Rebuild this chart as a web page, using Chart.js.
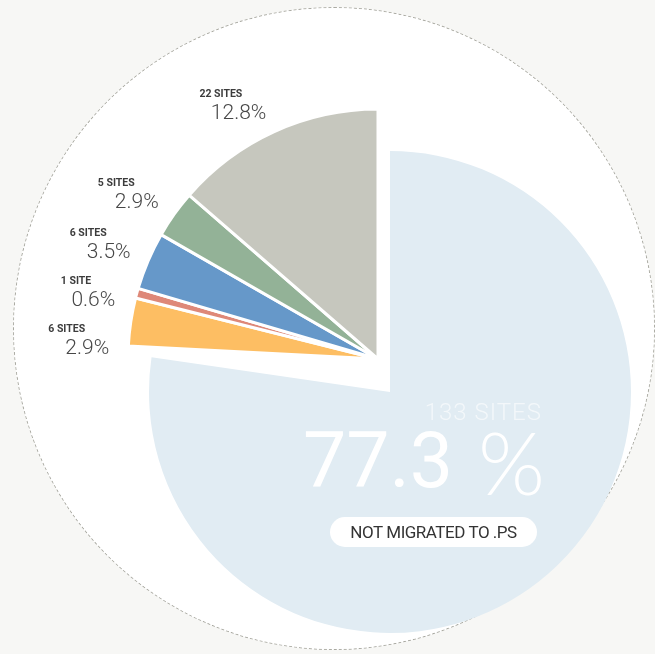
<!DOCTYPE html>
<html>
<head>
<meta charset="utf-8">
<script src="https://cdn.jsdelivr.net/npm/chart.js@4.4.1/dist/chart.umd.min.js"></script>
<style>
  html, body { margin: 0; padding: 0; background: #f7f7f5; }
  #stage { position: relative; width: 655px; height: 654px; overflow: hidden; }
  #disc {
    position: absolute; left: 13px; top: 7px; width: 642px; height: 643px;
    box-sizing: border-box; border-radius: 50%;
    background: #fff; border: 1px dashed #a9a9a1;
  }
  canvas { position: absolute; left: 0; top: 0; }
</style>
</head>
<body>
<div id="stage">
  <div id="disc"></div>
  <canvas id="mainChart" width="655" height="654"></canvas>
  <canvas id="restChart" width="655" height="654"></canvas>
</div>
<script>
// data
const segments = ['Not migrated to .PS', 'Group 1', 'Group 2', 'Group 3', 'Group 4', 'Group 5'];
const sites = [133, 6, 1, 6, 5, 22];
const shares = [77.3, 2.9, 0.6, 3.5, 2.9, 12.8];
const colors = ['#e1ecf3', '#fdbe63', '#de8878', '#6698c9', '#93b297', '#c6c7be'];
const mainCaption = 'NOT MIGRATED TO .PS';

function sitesText(n) {
    return n === 1 ? '1 SITE' : n + ' SITES';
}

// move the pie centre to (x, y) by adjusting the layout padding
function centerAt(chart, x, y) {
    const arc = chart.getDatasetMeta(0).data[0];
    const dx = x - arc.x, dy = y - arc.y;
    const pad = chart.options.layout.padding;
    pad.left = Math.max(0, 2 * dx);
    pad.right = Math.max(0, -2 * dx);
    pad.top = Math.max(0, 2 * dy);
    pad.bottom = Math.max(0, -2 * dy);
    chart.update('none');
}

// Big slice text
const bigTextPlugin = {
    id: 'bigText',
    afterDraw(chart) {
        const ctx = chart.ctx;
        const arc = chart.getDatasetMeta(0).data[0];
        const cx = arc.x, cy = arc.y;
        ctx.save();
        ctx.textBaseline = 'alphabetic';

        ctx.font = '300 24px Roboto';
        ctx.letterSpacing = '1px';
        ctx.fillStyle = 'rgba(255,255,255,0.6)';
        ctx.textAlign = 'right';
        ctx.fillText(sitesText(sites[0]), cx + 152, cy + 28);

        ctx.letterSpacing = '0px';
        ctx.fillStyle = '#ffffff';
        ctx.textAlign = 'left';
        ctx.font = '400 77px Roboto';
        ctx.fillText(String(shares[0]), cx - 87, cy + 95);
        ctx.font = '300 86px Lato';
        ctx.fillText('%', cx + 88, cy + 103);

        // pill
        ctx.beginPath();
        ctx.roundRect(cx - 60, cy + 125, 207, 30, 15);
        ctx.fill();
        ctx.fillStyle = '#333';
        ctx.font = '400 17px Roboto';
        ctx.letterSpacing = '-0.5px';
        ctx.textAlign = 'center';
        ctx.fillText(mainCaption, cx + 43.5, cy + 146);
        ctx.restore();
    }
};

// Labels next to the small slices
const sliceLabelPlugin = {
    id: 'sliceLabels',
    afterDraw(chart) {
        const ctx = chart.ctx;
        const arcs = chart.getDatasetMeta(0).data;
        const rl = 269;
        const items = arcs.map((arc, i) => {
            const mid = (arc.startAngle + arc.endAngle) / 2;
            return { i: i, arc: arc, side: Math.cos(mid) < 0 ? -1 : 1, y: arc.y + Math.sin(mid) * rl };
        });
        items.sort((a, b) => a.y - b.y);
        let prev = -Infinity;
        items.forEach(it => {
            it.y = Math.max(it.y, prev + 48);
            prev = it.y;
            const dy = it.y - it.arc.y;
            it.x = it.arc.x + it.side * Math.sqrt(Math.max(0, rl * rl - dy * dy));
        });

        ctx.save();
        ctx.textAlign = 'right';
        ctx.textBaseline = 'alphabetic';
        items.forEach(it => {
            const idx = it.i + 1;
            ctx.font = '300 21px Roboto';
            ctx.fillStyle = '#474747';
            ctx.fillText(shares[idx].toFixed(1) + '%', it.x, it.y + 5);
            ctx.font = 'bold 10.5px Roboto';
            ctx.fillStyle = '#3c3c3c';
            ctx.fillText(sitesText(sites[idx]), it.x - 24, it.y - 17);
        });
        ctx.restore();
    }
};

const baseOptions = {
    responsive: false,
    animation: false,
    events: [],
    plugins: { legend: { display: false }, tooltip: { enabled: false } }
};

// chart 1: the "not migrated" slice
const mainChart = new Chart(document.getElementById('mainChart').getContext('2d'), {
    type: 'pie',
    data: {
        labels: segments,
        datasets: [{
            data: shares,
            backgroundColor: colors.map((c, i) => i === 0 ? c : 'rgba(0,0,0,0)'),
            borderWidth: 0
        }]
    },
    options: Object.assign({}, baseOptions, {
        radius: 241,
        layout: { padding: { left: 0, right: 0, top: 0, bottom: 0 } }
    }),
    plugins: [bigTextPlugin]
});
centerAt(mainChart, 390, 392);

// chart 2: the remaining slices, pulled out to the upper left
const restChart = new Chart(document.getElementById('restChart').getContext('2d'), {
    type: 'pie',
    data: {
        labels: segments.slice(1),
        datasets: [{
            data: shares.slice(1),
            backgroundColor: colors.slice(1),
            borderColor: '#ffffff',
            borderWidth: 3
        }]
    },
    options: Object.assign({}, baseOptions, {
        radius: 250,
        rotation: 273,
        circumference: 87,
        layout: { padding: { left: 0, right: 0, top: 0, bottom: 0 } }
    }),
    plugins: [sliceLabelPlugin]
});
centerAt(restChart, 378, 359);
</script>
</body>
</html>
